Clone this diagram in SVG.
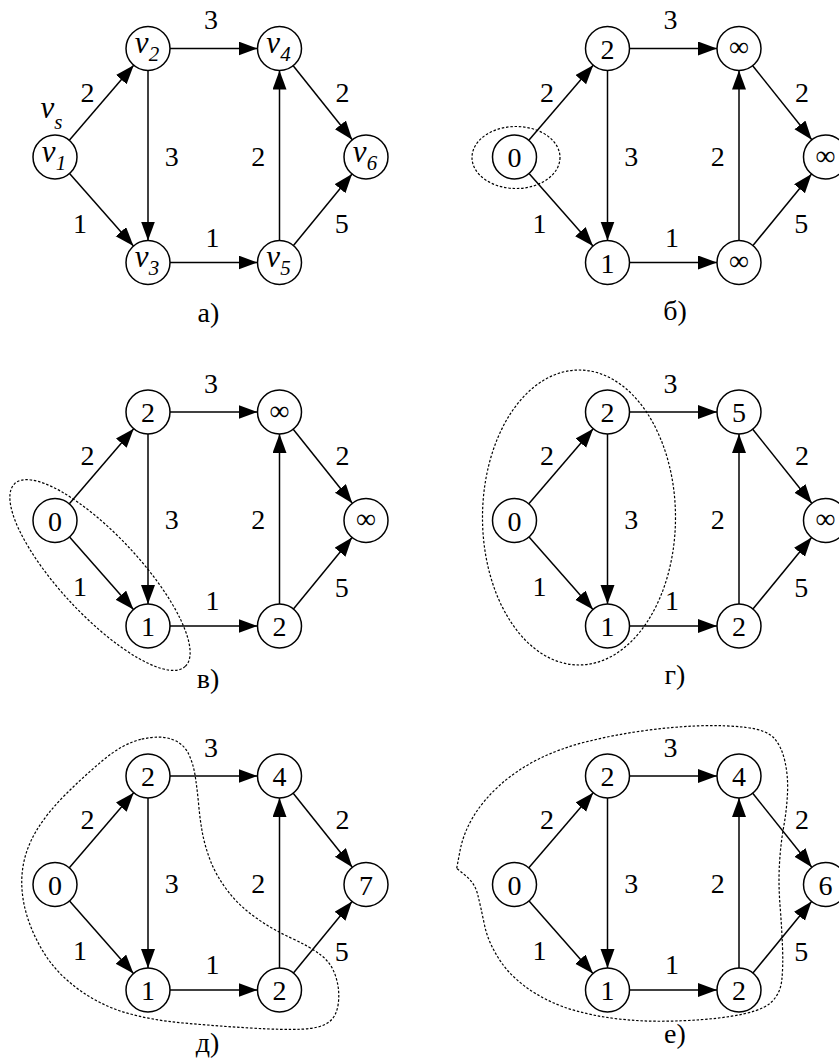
<svg xmlns="http://www.w3.org/2000/svg" width="839" height="1059" viewBox="0 0 839 1059" font-family="Liberation Serif">
<defs>
<style>
.e{stroke:#000;stroke-width:1.5;fill:none;marker-end:url(#ah)}
.n circle{fill:#fff;stroke:#000;stroke-width:1.5}
text{font-family:Liberation Serif,Tinos,Times New Roman,Times,Nimbus Roman,Noto Serif,DejaVu Serif,serif}
.t{font-size:28px;text-anchor:middle;fill:#000}
.v{font-style:italic;font-size:31px}
.s{font-size:21px}
.d{fill:none;stroke:#000;stroke-width:1.2;stroke-dasharray:2.5 1.8}
</style>
<marker id="ah" markerUnits="userSpaceOnUse" markerWidth="20" markerHeight="16" refX="19" refY="7" orient="auto"><path d="M0,0 L19,7 L0,14 Z" fill="#000"/></marker>
</defs>
<rect width="839" height="1059" fill="#fff"/>

<!-- Panel a -->
<g id="panel-a">
<g id="a-edges">
<path class="e" d="M69.32,140.3 L133.68,65.2"/>
<path class="e" d="M69.55,173.5 L133.45,246"/>
<path class="e" d="M170,48.5 L257.5,48.5"/>
<path class="e" d="M148,70.5 L148,240.5"/>
<path class="e" d="M170,262.5 L257.5,262.5"/>
<path class="e" d="M279.5,240.5 L279.5,70.5"/>
<path class="e" d="M293.21,65.7 L352.29,139.8"/>
<path class="e" d="M293.45,245.49 L352.05,174.01"/>
<text class="t" x="211" y="29">3</text>
<text class="t" x="87.5" y="101.5">2</text>
<text class="t" x="80" y="232.5">1</text>
<text class="t" x="171.7" y="165.5">3</text>
<text class="t" x="212.5" y="246.5">1</text>
<text class="t" x="258.3" y="165.5">2</text>
<text class="t" x="342.5" y="101.5">2</text>
<text class="t" x="341.7" y="233">5</text>
</g>
<g id="a-v1" class="n"><circle cx="55" cy="157" r="22"/><text class="t" x="54" y="161.5"><tspan class="v">v</tspan><tspan class="v s" dy="8">1</tspan></text><text class="t" x="51.5" y="118"><tspan class="v">v</tspan><tspan class="v s" dy="11">s</tspan></text></g>
<g id="a-v2" class="n"><circle cx="148" cy="48.5" r="22"/><text class="t" x="147" y="53"><tspan class="v">v</tspan><tspan class="v s" dy="8">2</tspan></text></g>
<g id="a-v3" class="n"><circle cx="148" cy="262.5" r="22"/><text class="t" x="147" y="267"><tspan class="v">v</tspan><tspan class="v s" dy="8">3</tspan></text></g>
<g id="a-v4" class="n"><circle cx="279.5" cy="48.5" r="22"/><text class="t" x="278.5" y="53"><tspan class="v">v</tspan><tspan class="v s" dy="8">4</tspan></text></g>
<g id="a-v5" class="n"><circle cx="279.5" cy="262.5" r="22"/><text class="t" x="278.5" y="267"><tspan class="v">v</tspan><tspan class="v s" dy="8">5</tspan></text></g>
<g id="a-v6" class="n"><circle cx="366" cy="157" r="22"/><text class="t" x="365" y="161.5"><tspan class="v">v</tspan><tspan class="v s" dy="8">6</tspan></text></g>
<text class="t" x="208.5" y="322">а)</text>
</g>

<!-- Panel b -->
<g id="panel-b" transform="translate(459.5,0)">
<g id="b-edges">
<path class="e" d="M69.32,140.3 L133.68,65.2"/>
<path class="e" d="M69.55,173.5 L133.45,246"/>
<path class="e" d="M170,48.5 L257.5,48.5"/>
<path class="e" d="M148,70.5 L148,240.5"/>
<path class="e" d="M170,262.5 L257.5,262.5"/>
<path class="e" d="M279.5,240.5 L279.5,70.5"/>
<path class="e" d="M293.21,65.7 L352.29,139.8"/>
<path class="e" d="M293.45,245.49 L352.05,174.01"/>
<text class="t" x="211" y="29">3</text>
<text class="t" x="87.5" y="101.5">2</text>
<text class="t" x="80" y="232.5">1</text>
<text class="t" x="171.7" y="165.5">3</text>
<text class="t" x="212.5" y="246.5">1</text>
<text class="t" x="258.3" y="165.5">2</text>
<text class="t" x="342.5" y="101.5">2</text>
<text class="t" x="341.7" y="233">5</text>
</g>
<ellipse class="d" cx="56.5" cy="157.5" rx="44" ry="31"/>
<g id="b-n1" class="n"><circle cx="55" cy="157" r="22"/><text class="t" x="55" y="167">0</text></g>
<g id="b-n2" class="n"><circle cx="148" cy="48.5" r="22"/><text class="t" x="148" y="58.5">2</text></g>
<g id="b-n3" class="n"><circle cx="148" cy="262.5" r="22"/><text class="t" x="148" y="272.5">1</text></g>
<g id="b-n4" class="n"><circle cx="279.5" cy="48.5" r="22"/><text class="t" x="279.5" y="56">∞</text></g>
<g id="b-n5" class="n"><circle cx="279.5" cy="262.5" r="22"/><text class="t" x="279.5" y="270">∞</text></g>
<g id="b-n6" class="n"><circle cx="366" cy="157" r="22"/><text class="t" x="366" y="164.5">∞</text></g>
<text class="t" x="215.5" y="320">б)</text>
</g>

<!-- Panel c -->
<g id="panel-c" transform="translate(0,363.5)">
<g id="c-edges">
<path class="e" d="M69.32,140.3 L133.68,65.2"/>
<path class="e" d="M69.55,173.5 L133.45,246"/>
<path class="e" d="M170,48.5 L257.5,48.5"/>
<path class="e" d="M148,70.5 L148,240.5"/>
<path class="e" d="M170,262.5 L257.5,262.5"/>
<path class="e" d="M279.5,240.5 L279.5,70.5"/>
<path class="e" d="M293.21,65.7 L352.29,139.8"/>
<path class="e" d="M293.45,245.49 L352.05,174.01"/>
<text class="t" x="211" y="29">3</text>
<text class="t" x="87.5" y="101.5">2</text>
<text class="t" x="80" y="232.5">1</text>
<text class="t" x="171.7" y="165.5">3</text>
<text class="t" x="212.5" y="246.5">1</text>
<text class="t" x="258.3" y="165.5">2</text>
<text class="t" x="342.5" y="101.5">2</text>
<text class="t" x="341.7" y="233">5</text>
</g>
<ellipse class="d" cx="100" cy="211.5" rx="125" ry="40" transform="rotate(47 100 211.5)"/>
<g id="c-n1" class="n"><circle cx="55" cy="157" r="22"/><text class="t" x="55" y="167">0</text></g>
<g id="c-n2" class="n"><circle cx="148" cy="48.5" r="22"/><text class="t" x="148" y="58.5">2</text></g>
<g id="c-n3" class="n"><circle cx="148" cy="262.5" r="22"/><text class="t" x="148" y="272.5">1</text></g>
<g id="c-n4" class="n"><circle cx="279.5" cy="48.5" r="22"/><text class="t" x="279.5" y="56">∞</text></g>
<g id="c-n5" class="n"><circle cx="279.5" cy="262.5" r="22"/><text class="t" x="279.5" y="272.5">2</text></g>
<g id="c-n6" class="n"><circle cx="366" cy="157" r="22"/><text class="t" x="366" y="164.5">∞</text></g>
<text class="t" x="208" y="324.5">в)</text>
</g>

<!-- Panel d -->
<g id="panel-d" transform="translate(459.5,363.5)">
<g id="d-edges">
<path class="e" d="M69.32,140.3 L133.68,65.2"/>
<path class="e" d="M69.55,173.5 L133.45,246"/>
<path class="e" d="M170,48.5 L257.5,48.5"/>
<path class="e" d="M148,70.5 L148,240.5"/>
<path class="e" d="M170,262.5 L257.5,262.5"/>
<path class="e" d="M279.5,240.5 L279.5,70.5"/>
<path class="e" d="M293.21,65.7 L352.29,139.8"/>
<path class="e" d="M293.45,245.49 L352.05,174.01"/>
<text class="t" x="211" y="29">3</text>
<text class="t" x="87.5" y="101.5">2</text>
<text class="t" x="80" y="232.5">1</text>
<text class="t" x="171.7" y="165.5">3</text>
<text class="t" x="212.5" y="246.5">1</text>
<text class="t" x="258.3" y="165.5">2</text>
<text class="t" x="342.5" y="101.5">2</text>
<text class="t" x="341.7" y="233">5</text>
</g>
<ellipse class="d" cx="119.5" cy="154" rx="96.5" ry="147.5"/>
<g id="d-n1" class="n"><circle cx="55" cy="157" r="22"/><text class="t" x="55" y="167">0</text></g>
<g id="d-n2" class="n"><circle cx="148" cy="48.5" r="22"/><text class="t" x="148" y="58.5">2</text></g>
<g id="d-n3" class="n"><circle cx="148" cy="262.5" r="22"/><text class="t" x="148" y="272.5">1</text></g>
<g id="d-n4" class="n"><circle cx="279.5" cy="48.5" r="22"/><text class="t" x="279.5" y="58.5">5</text></g>
<g id="d-n5" class="n"><circle cx="279.5" cy="262.5" r="22"/><text class="t" x="279.5" y="272.5">2</text></g>
<g id="d-n6" class="n"><circle cx="366" cy="157" r="22"/><text class="t" x="366" y="164.5">∞</text></g>
<text class="t" x="215.5" y="320.5">г)</text>
</g>

<!-- Panel e -->
<g id="panel-e" transform="translate(0,727.5)">
<g id="e-edges">
<path class="e" d="M69.32,140.3 L133.68,65.2"/>
<path class="e" d="M69.55,173.5 L133.45,246"/>
<path class="e" d="M170,48.5 L257.5,48.5"/>
<path class="e" d="M148,70.5 L148,240.5"/>
<path class="e" d="M170,262.5 L257.5,262.5"/>
<path class="e" d="M279.5,240.5 L279.5,70.5"/>
<path class="e" d="M293.21,65.7 L352.29,139.8"/>
<path class="e" d="M293.45,245.49 L352.05,174.01"/>
<text class="t" x="211" y="29">3</text>
<text class="t" x="87.5" y="101.5">2</text>
<text class="t" x="80" y="232.5">1</text>
<text class="t" x="171.7" y="165.5">3</text>
<text class="t" x="212.5" y="246.5">1</text>
<text class="t" x="258.3" y="165.5">2</text>
<text class="t" x="342.5" y="101.5">2</text>
<text class="t" x="341.7" y="233">5</text>
</g>
<path class="d" d="M141.7,11.7 Q160,7.5 171.7,11.7 Q183.3,15.8 188.3,25.8 Q193.3,35.8 195.3,49.2 Q197.3,62.5 198.7,77.5 Q200,92.5 202.5,105.8 Q205,119.2 210.8,134.2 Q216.7,149.2 228.3,164.2 Q240,179.2 256.7,190.8 Q273.3,202.5 291.7,210.8 Q310,219.2 320.8,227.5 Q331.7,235.8 335.8,249.2 Q340,262.5 338.3,275.8 Q336.7,289.2 328.3,295 Q320,300.8 301.7,301.7 Q283.3,302.5 250,300.5 Q216.7,298.5 183.3,295.5 Q150,292.5 125,285 Q100,277.5 78.3,261.7 Q56.7,245.8 44.2,225.8 Q31.7,205.8 25.8,184.2 Q20,162.5 22.5,142.5 Q25,122.5 35.8,104.2 Q46.7,85.8 65,67.5 Q83.3,49.2 103.3,32.5 Q123.3,15.8 141.7,11.7 Z"/>
<g id="e-n1" class="n"><circle cx="55" cy="157" r="22"/><text class="t" x="55" y="167">0</text></g>
<g id="e-n2" class="n"><circle cx="148" cy="48.5" r="22"/><text class="t" x="148" y="58.5">2</text></g>
<g id="e-n3" class="n"><circle cx="148" cy="262.5" r="22"/><text class="t" x="148" y="272.5">1</text></g>
<g id="e-n4" class="n"><circle cx="279.5" cy="48.5" r="22"/><text class="t" x="279.5" y="58.5">4</text></g>
<g id="e-n5" class="n"><circle cx="279.5" cy="262.5" r="22"/><text class="t" x="279.5" y="272.5">2</text></g>
<g id="e-n6" class="n"><circle cx="366" cy="157" r="22"/><text class="t" x="366" y="167">7</text></g>
<text class="t" x="207.5" y="324.5">д)</text>
</g>

<!-- Panel f -->
<g id="panel-f" transform="translate(459.5,727.5)">
<g id="f-edges">
<path class="e" d="M69.32,140.3 L133.68,65.2"/>
<path class="e" d="M69.55,173.5 L133.45,246"/>
<path class="e" d="M170,48.5 L257.5,48.5"/>
<path class="e" d="M148,70.5 L148,240.5"/>
<path class="e" d="M170,262.5 L257.5,262.5"/>
<path class="e" d="M279.5,240.5 L279.5,70.5"/>
<path class="e" d="M293.21,65.7 L352.29,139.8"/>
<path class="e" d="M293.45,245.49 L352.05,174.01"/>
<text class="t" x="211" y="29">3</text>
<text class="t" x="87.5" y="101.5">2</text>
<text class="t" x="80" y="232.5">1</text>
<text class="t" x="171.7" y="165.5">3</text>
<text class="t" x="212.5" y="246.5">1</text>
<text class="t" x="258.3" y="165.5">2</text>
<text class="t" x="342.5" y="101.5">2</text>
<text class="t" x="341.7" y="233">5</text>
</g>
<path class="d" d="M-2.8,140.8 L0.5,123.3 Q3.8,105.8 13.8,89.2 Q23.8,72.5 40.5,57.5 Q57.2,42.5 78.8,31.7 Q100.5,20.8 127.2,14.2 Q153.8,7.5 183.8,3.3 Q213.8,-0.8 240.5,-1.7 Q267.2,-2.5 287.2,0 Q307.2,2.5 314.7,10.8 Q322.2,19.2 325.5,34.2 Q328.8,49.2 328,65.8 Q327.2,82.5 324.2,99.2 Q321.2,115.8 320,135.8 Q318.8,155.8 320.5,177.5 Q322.2,199.2 323,219.2 Q323.8,239.2 322.2,253.3 Q320.5,267.5 310.5,275.8 Q300.5,284.2 272.2,288.7 Q243.8,293.2 205.5,293.7 Q167.2,294.2 133.8,287.5 Q100.5,280.8 77.2,266.7 Q53.8,252.5 41.3,234.2 Q28.8,215.8 25,197.5 Q21.2,179.2 18.3,167.5 Q15.5,155.8 6.3,148.3 L-2.8,140.8 Z"/>
<g id="f-n1" class="n"><circle cx="55" cy="157" r="22"/><text class="t" x="55" y="167">0</text></g>
<g id="f-n2" class="n"><circle cx="148" cy="48.5" r="22"/><text class="t" x="148" y="58.5">2</text></g>
<g id="f-n3" class="n"><circle cx="148" cy="262.5" r="22"/><text class="t" x="148" y="272.5">1</text></g>
<g id="f-n4" class="n"><circle cx="279.5" cy="48.5" r="22"/><text class="t" x="279.5" y="58.5">4</text></g>
<g id="f-n5" class="n"><circle cx="279.5" cy="262.5" r="22"/><text class="t" x="279.5" y="272.5">2</text></g>
<g id="f-n6" class="n"><circle cx="366" cy="157" r="22"/><text class="t" x="366" y="167">6</text></g>
<text class="t" x="215.5" y="315.5">е)</text>
</g>
</svg>
